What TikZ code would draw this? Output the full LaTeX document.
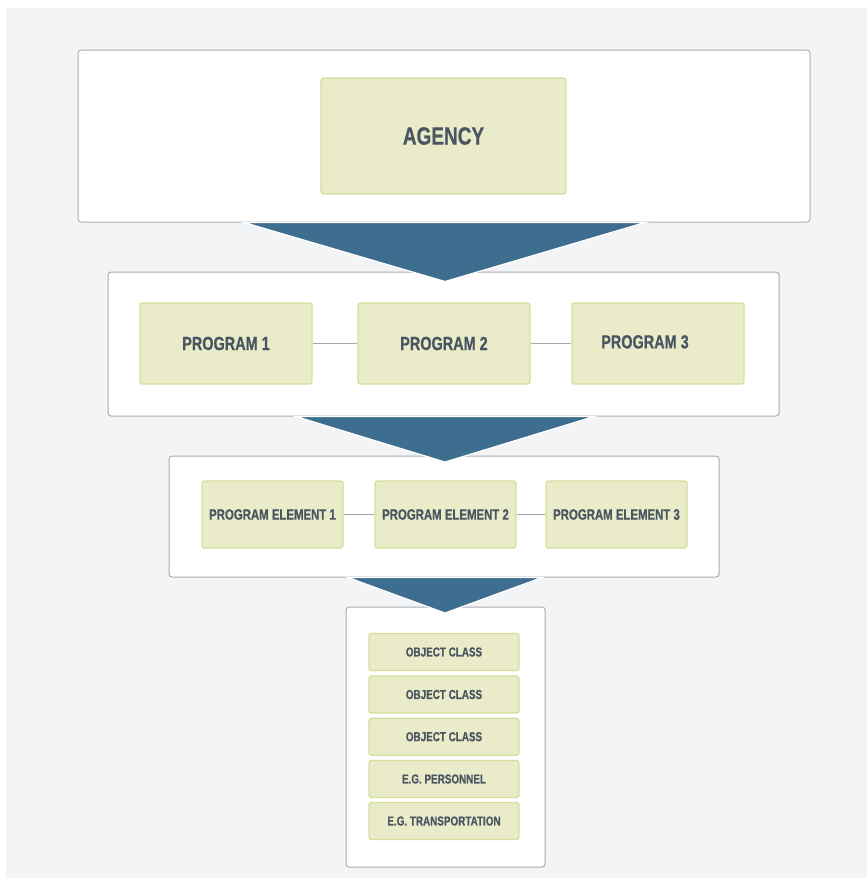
\documentclass[tikz,border=0pt]{standalone}
\usepackage{fontspec}
\setmainfont{Liberation Sans}[FakeStretch=0.76, BoldFeatures={FakeBold=0.6}]
\definecolor{bgc}{HTML}{F3F4F6}
\definecolor{arrowc}{HTML}{3D6E8F}
\definecolor{gfill}{HTML}{EAECC9}
\definecolor{gborder}{HTML}{D6DF99}
\definecolor{outerc}{HTML}{A9ACB0}
\definecolor{txtc}{HTML}{4A5561}
\definecolor{connc}{HTML}{A3A6AA}
\begin{document}
\begin{tikzpicture}[x=1pt,y=-1pt,
  outer/.style={draw=outerc, line width=1pt, fill=white, rounded corners=3pt, inner sep=0pt},
  gbox/.style={draw=gborder, line width=1.3pt, fill=gfill, rounded corners=2.5pt, text=txtc, font=\bfseries, inner sep=0pt},
  funnel/.style={fill=arrowc, draw=white, line width=1.2pt, line join=miter},
  conn/.style={draw=connc, line width=1.3pt}]
\useasboundingbox (0,0) rectangle (867,878);
\fill[bgc] (6,8) rectangle (867,878);
% outer level boxes
\node[outer, minimum width=732, minimum height=172] (L1) at (444,136) {};
\node[outer, minimum width=671, minimum height=144] (L2) at (443.5,344) {};
\node[outer, minimum width=550, minimum height=121] (L3) at (444,516.5) {};
\node[outer, minimum width=199, minimum height=260] (L4) at (445.5,737) {};
% funnel arrows
\filldraw[funnel] (244,222.5) -- (645,222.5) -- (445,281.5) -- cycle;
\filldraw[funnel] (296,416.5) -- (594,416.5) -- (445,462) -- cycle;
\filldraw[funnel] (348,577.5) -- (542,577.5) -- (445,613) -- cycle;
% level 1
\node[gbox, minimum width=245, minimum height=116, font=\bfseries\fontsize{25}{30}\selectfont] (ag) at (443.5,136) {AGENCY};
% level 2
\tikzset{prog/.style={gbox, minimum width=172, minimum height=81, font=\bfseries\fontsize{19}{23}\selectfont}}
\node[prog] (p1) at (226,343.5) {PROGRAM 1};
\node[prog] (p2) at (444,343.5) {PROGRAM 2};
\node[prog] (p3) at (658,343.5) {\hspace*{-26pt}\raisebox{3.4pt}{PROGRAM 3}};
\draw[conn] (p1.east) -- (p2.west);
\draw[conn] (p2.east) -- (p3.west);
% level 3
\tikzset{pel/.style={gbox, minimum width=141, minimum height=67, font=\bfseries\fontsize{15}{18}\selectfont}}
\node[pel] (e1) at (272.5,514.5) {PROGRAM ELEMENT 1};
\node[pel] (e2) at (445.5,514.5) {PROGRAM ELEMENT 2};
\node[pel] (e3) at (616.5,514.5) {PROGRAM ELEMENT 3};
\draw[conn] (e1.east) -- (e2.west);
\draw[conn] (e2.east) -- (e3.west);
% level 4
\tikzset{obj/.style={gbox, minimum width=150, minimum height=37, font=\bfseries\fontsize{13}{15}\selectfont}}
\node[obj] (o1) at (444,652) {OBJECT CLASS};
\node[obj] (o2) at (444,694.5) {OBJECT CLASS};
\node[obj] (o3) at (444,736.7) {OBJECT CLASS};
\node[obj] (o4) at (444,779) {E.G. PERSONNEL};
\node[obj] (o5) at (444,821) {E.G. TRANSPORTATION};
\end{tikzpicture}
\end{document}
